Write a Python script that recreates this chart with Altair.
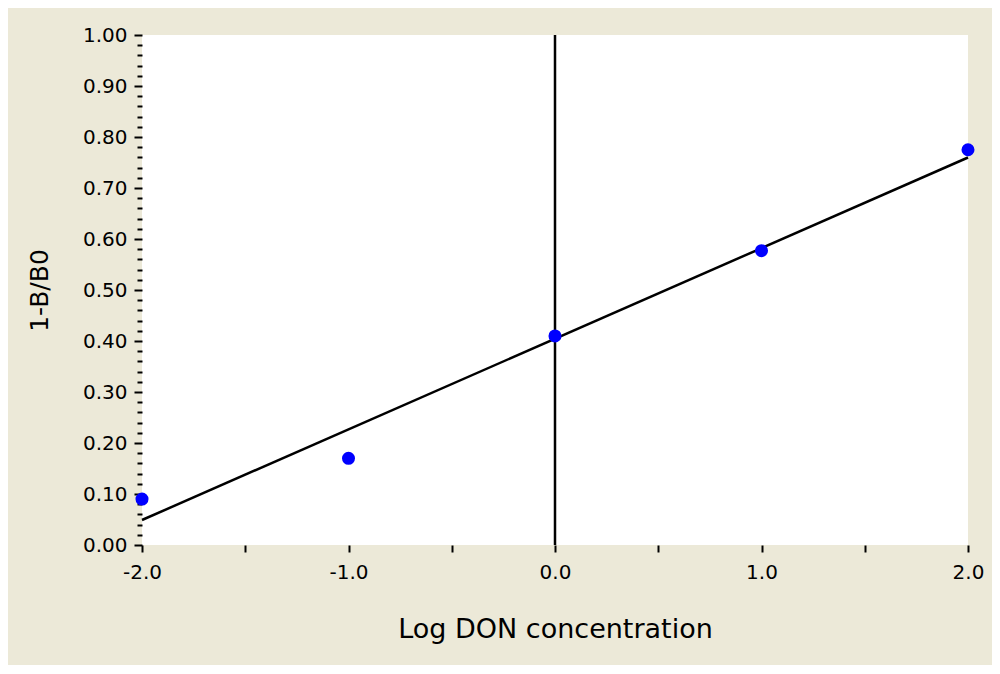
import altair as alt
import pandas as pd

# data
log_conc = [-2.0, -1.0, 0.0, 1.0, 2.0]
ratio = [0.09, 0.17, 0.41, 0.577, 0.775]

x_ticks = [-2.0, -1.5, -1.0, -0.5, 0.0, 0.5, 1.0, 1.5, 2.0]
y_ticks = [round(i * 0.02, 2) for i in range(51)]
vline_x = [0.0]

df = pd.DataFrame({"x": log_conc, "y": ratio})
vdf = pd.DataFrame({"x": vline_x})

FONT = "DejaVu Sans"

major_test = "abs(datum.value*10 - round(datum.value*10)) < 0.001"

x_scale = alt.Scale(domain=[-2, 2], nice=False, zero=False)
y_scale = alt.Scale(domain=[0, 1], nice=False, zero=False)

x_axis = alt.Axis(
    title="Log DON concentration",
    values=x_ticks,
    labelExpr="abs(datum.value - round(datum.value)) < 0.001 ? replace(format(datum.value, '.1f'), '\u2212', '-') : ''",
    labelOverlap=False,
    labelFlush=False,
    domain=False,
    grid=False,
    tickSize=7,
    tickWidth=2,
    tickColor="black",
    labelPadding=10,
    labelFont=FONT,
    labelFontSize=20,
    labelColor="black",
    titleFont=FONT,
    titleFontSize=27,
    titleFontWeight="normal",
    titleColor="black",
    titlePadding=34,
)

y_axis = alt.Axis(
    title="1-B/B0",
    values=y_ticks,
    labelExpr=major_test + " ? format(datum.value, '.2f') : ''",
    labelOverlap=False,
    labelFlush=False,
    domain=False,
    grid=False,
    tickSize={"condition": {"test": major_test, "value": 8}, "value": 5},
    tickWidth=2,
    tickColor="black",
    labelPadding=7,
    labelFont=FONT,
    labelFontSize=20,
    labelColor="black",
    titleFont=FONT,
    titleFontSize=25,
    titleFontWeight="normal",
    titleColor="black",
    titlePadding=30,
)

X = alt.X("x:Q", scale=x_scale, axis=x_axis)
Y = alt.Y("y:Q", scale=y_scale, axis=y_axis)

base = alt.Chart(df)

fit = base.transform_regression("x", "y", extent=[-2, 2]).mark_line(
    color="black", strokeWidth=2.5
).encode(x=X, y=Y)

vline = alt.Chart(vdf).mark_rule(color="black", strokeWidth=2.5).encode(x=X)

points = base.mark_circle(color="#0000FF", size=170, opacity=1).encode(x=X, y=Y)

chart = alt.layer(fit, vline, points).properties(
    width=826,
    height=510,
    background="#ECE9D8",
    padding={"left": 134, "top": 27, "right": 24, "bottom": 120},
    autosize=alt.AutoSizeParams(type="none"),
).configure_view(fill="white", stroke=None)

chart.save("out.html", embed_options={"renderer": "svg", "actions": False})
